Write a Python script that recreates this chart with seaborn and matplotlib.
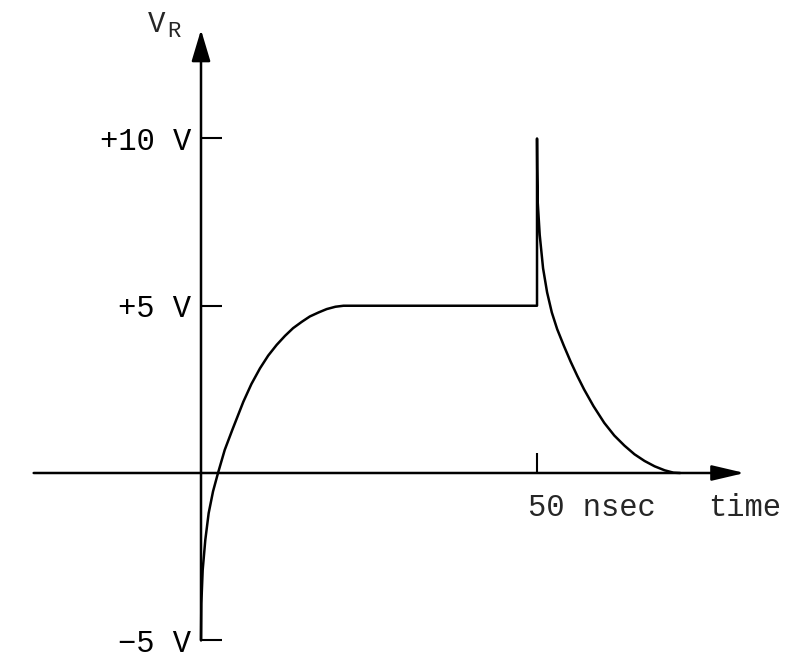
import matplotlib
matplotlib.use("Agg")
import matplotlib.pyplot as plt
import pandas as pd
import seaborn as sns

# waveform V_R(t), time in nsec, voltage in V
t_ns = [0.0, 0.05, 0.25, 0.64, 1.14, 1.79, 2.53, 3.53, 4.66, 6.3, 7.5,
        8.78, 10.0, 11.26, 12.5, 13.7, 15.0, 16.2, 17.5, 18.7, 20.0, 21.2, 21.9,
        50.0, 50.0,
        50.03, 50.1, 50.4, 50.9, 51.5, 52.2, 53.0, 54.0, 55.0, 56.0, 57.0,
        58.4, 60.0, 61.5, 63.0, 64.5, 66.0, 67.5, 69.0, 70.3, 71.3]
v_r = [-5.0, -3.9, -2.9, -2.0, -1.2, -0.55, 0.0, 0.69, 1.29, 2.13, 2.66,
       3.13, 3.51, 3.83, 4.1, 4.33, 4.52, 4.68, 4.8, 4.9, 4.97, 5.0, 5.0,
       5.0, 10.0,
       9.1, 8.11, 7.12, 6.12, 5.4, 4.8, 4.3, 3.8, 3.33, 2.9, 2.5,
       2.0, 1.5, 1.12, 0.82, 0.56, 0.36, 0.2, 0.08, 0.01, 0.0]

y_ticks = [10, 5, -5]
y_labels = ["+10 V", "+5 V", "\u22125 V"]
x_ticks = [50]
x_label_text = "50 nsec"
axis_name_x = "time"

sns.set_style("white")
plt.rcParams["font.family"] = ["Liberation Mono", "DejaVu Sans"]

fig = plt.figure(figsize=(8.02, 6.63), dpi=100)
ax = fig.add_axes([0, 0, 1, 1])

df = pd.DataFrame({"t": t_ns, "v": v_r})
sns.lineplot(data=df, x="t", y="v", sort=False, estimator=None,
             color="black", lw=1.8, ax=ax)
for ln in ax.get_lines():
    ln.set_solid_joinstyle("round")

ax.set_xlim(-29.91, 89.43)
ax.set_ylim(-5.68, 14.14)
ax.set_xlabel("")
ax.set_ylabel("")

for s in ax.spines.values():
    s.set_visible(False)
ax.spines["left"].set_position(("data", 0))
ax.spines["bottom"].set_position(("data", 0))

ax.set_yticks(y_ticks)
ax.set_yticklabels(y_labels)
ax.set_xticks(x_ticks)
ax.set_xticklabels([""])
ax.tick_params(axis="y", direction="in", length=15, width=1.5, pad=7,
               labelsize=22, left=True, colors="black")
ax.tick_params(axis="x", direction="in", length=14.4, width=1.5,
               bottom=True, colors="black")

arrow_kw = dict(color="black", lw=1.8, shrinkA=0, shrinkB=0)
ax.annotate("", xy=(0, 13.25), xytext=(0, -5),
            arrowprops=dict(arrowstyle="-|>,head_length=1.94,head_width=0.58",
                            mutation_scale=10, **arrow_kw))
ax.annotate("", xy=(80.9, 0), xytext=(-24.9, 0),
            arrowprops=dict(arrowstyle="-|>,head_length=2.0,head_width=0.47",
                            mutation_scale=10, **arrow_kw))

ax.text(48.66, -1.286, x_label_text, ha="left", va="baseline", fontsize=22)
ax.text(75.45, -1.286, axis_name_x, ha="left", va="baseline", fontsize=22)
ax.text(-7.89, 13.18, "V", ha="left", va="baseline", fontsize=21)
ax.text(-5.06, 13.03, "R", ha="left", va="baseline", fontsize=16)

fig.savefig("out.png", dpi=100, facecolor="white")
